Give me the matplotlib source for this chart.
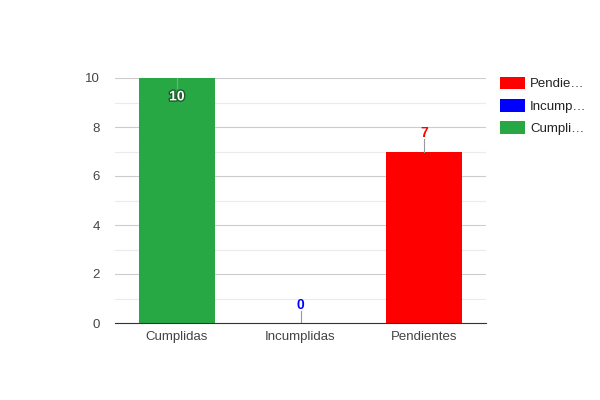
import matplotlib

matplotlib.use("Agg")
import matplotlib.pyplot as plt
import matplotlib.patheffects as pe
from matplotlib.patches import Patch

categories = ["Cumplidas", "Incumplidas", "Pendientes"]
values = [10, 0, 7]
colors = ["#28a745", "#0000ff", "#ff0000"]
legend_labels = ["Pendie…", "Incump…", "Cumpli…"]
legend_colors = ["#ff0000", "#0000ff", "#28a745"]

plt.rcParams["font.family"] = ["Liberation Sans", "DejaVu Sans"]

fig = plt.figure(figsize=(6, 4), dpi=100)
ax = fig.add_axes([0.1917, 0.1925, 0.6183, 0.6125])

x = list(range(len(categories)))
ax.bar(x, values, width=0.615, color=colors, zorder=3)

ax.set_xlim(-0.5, 2.5)
ax.set_ylim(0, 10)
ax.set_yticks(range(0, 11, 2))
ax.set_yticks(range(1, 10, 2), minor=True)
ax.grid(axis="y", which="major", color="#cccccc", linewidth=0.8, zorder=0)
ax.grid(axis="y", which="minor", color="#ebebeb", linewidth=0.8, zorder=0)
ax.set_xticks(x)
ax.set_xticklabels(categories)
ax.tick_params(axis="both", which="both", length=0, labelsize=9.5, colors="#444444", pad=6)
ax.tick_params(axis="y", pad=11)
for side in ["top", "right", "left"]:
    ax.spines[side].set_visible(False)
ax.spines["bottom"].set_color("#333333")
ax.spines["bottom"].set_zorder(4)

# value labels with small leader lines
for xi, v, c in zip(x, values, colors):
    if v == max(values):
        ax.plot([xi, xi], [v, v - 0.4], color="#999999", linewidth=0.8, zorder=4)
        ax.text(xi, v - 0.75, str(v), ha="center", va="center", fontsize=10,
                fontweight="bold", color="white", zorder=5,
                path_effects=[pe.withStroke(linewidth=2, foreground="#1a5c2a")])
    else:
        ax.plot([xi, xi], [v, v + 0.5], color="#999999", linewidth=0.8, zorder=4)
        ax.text(xi, v + 0.75, str(v), ha="center", va="center", fontsize=10,
                fontweight="bold", color=c, zorder=5)

handles = [Patch(facecolor=c, edgecolor="none") for c in legend_colors]
fig.legend(handles, legend_labels, loc="upper left", bbox_to_anchor=(0.813, 0.838),
           frameon=False, prop={"size": 9.5}, handlelength=1.9,
           handleheight=1.1, handletextpad=0.4, labelspacing=0.65,
           labelcolor="#222222")

fig.savefig("out.png", dpi=100)
